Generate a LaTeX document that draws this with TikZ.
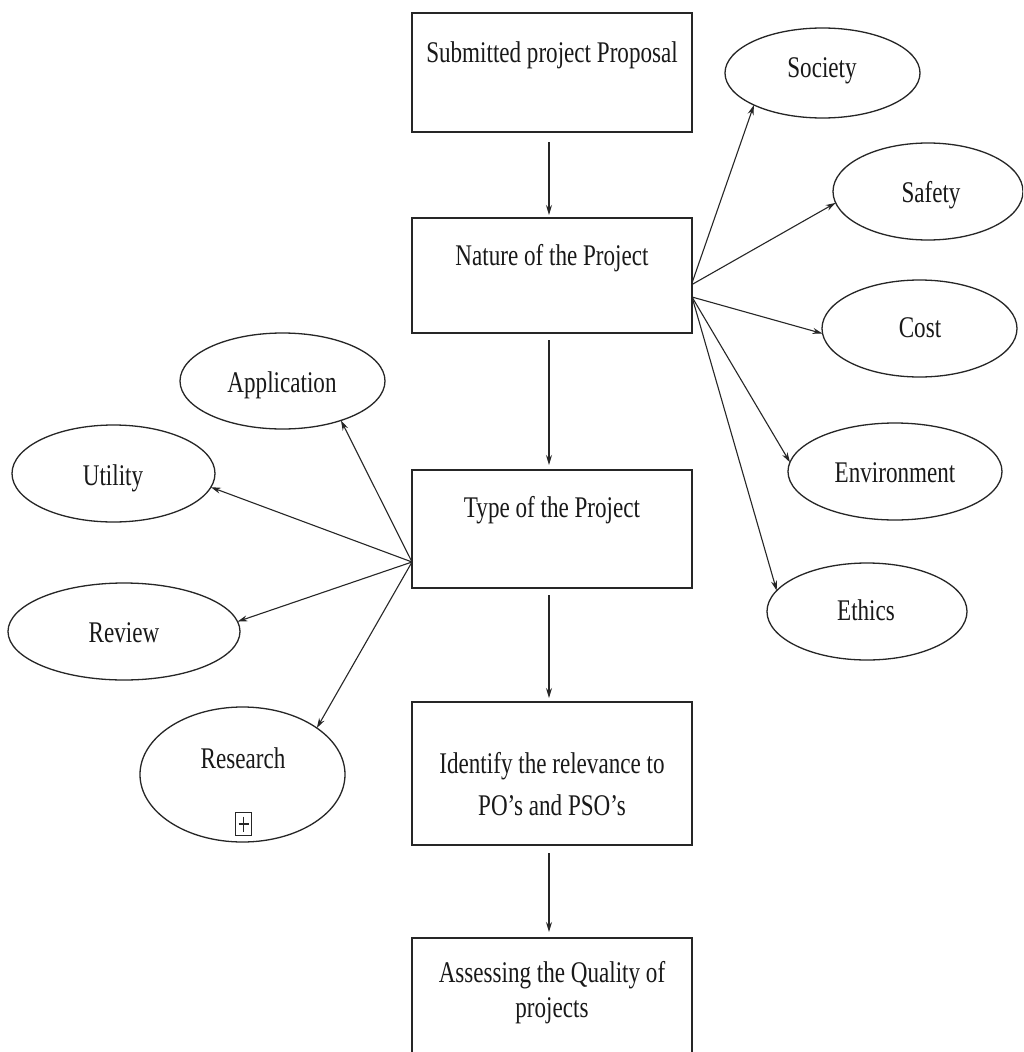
\documentclass[tikz,border=0pt]{standalone}
\usepackage{fontspec}
\setmainfont{Liberation Serif}[FakeStretch=0.77]
\usetikzlibrary{arrows.meta,shapes.geometric}
\begin{document}
\begin{tikzpicture}[x=1pt,y=-1pt,
  box/.style={draw=black!85, line width=1.8pt, rectangle, minimum width=280pt, inner sep=0pt, outer sep=0pt},
  oval/.style={draw=black!85, line width=1.3pt, ellipse, inner sep=0pt, outer sep=0pt},
  txt/.style={anchor=base, inner sep=0pt, outer sep=0pt, font=\fontsize{30pt}{36pt}\selectfont, text=black!90},
  arr/.style={draw=black!85, line width=1.1pt, -{Stealth[length=10pt,width=6pt]}}]
\useasboundingbox (0,0) rectangle (1023,1052);
\clip (0,0) rectangle (1023,1052);
\fill[white] (0,0) rectangle (1023,1052);

% central boxes
\node[box, minimum height=119pt] (b1) at (552,72.5) {};
\node[box, minimum height=115pt] (b2) at (552,275.5) {};
\node[box, minimum height=118pt] (b3) at (552,529) {};
\node[box, minimum height=143pt] (b4) at (552,773.5) {};
\node[box, minimum height=142pt] (b5) at (552,1009) {};

\node[txt] (b1t) at (552,62) {Submitted project Proposal};
\node[txt] (b2t) at (552,265) {Nature of the Project};
\node[txt] (b3t) at (552,517) {Type of the Project};
\node[txt] (b4t1) at (552,773) {Identify the relevance to};
\node[txt] (b4t2) at (552,815) {PO’s and PSO’s};
\node[txt] (b5t1) at (552,982) {Assessing the Quality of};
\node[txt] (b5t2) at (552,1017) {projects};

% right ellipses
\node[oval, minimum width=195pt, minimum height=90pt] (soc) at (822.5,73) {};
\node[oval, minimum width=190pt, minimum height=97pt] (saf) at (928,191.5) {};
\node[oval, minimum width=195pt, minimum height=97pt] (cost) at (919.5,328.5) {};
\node[oval, minimum width=214pt, minimum height=97pt] (env) at (895,471.5) {};
\node[oval, minimum width=200pt, minimum height=97pt] (eth) at (867,611.5) {};

\node[txt] (soct) at (822,77) {Society};
\node[txt] (saft) at (931,202) {Safety};
\node[txt] (costt) at (920,337) {Cost};
\node[txt] (envt) at (895,482) {Environment};
\node[txt] (etht) at (866,620) {Ethics};

% left ellipses
\node[oval, minimum width=205pt, minimum height=96pt] (app) at (282.5,381) {};
\node[oval, minimum width=203pt, minimum height=97pt] (uti) at (113.5,473.5) {};
\node[oval, minimum width=232pt, minimum height=97pt] (rev) at (124,631.5) {};
\node[oval, minimum width=205pt, minimum height=135pt] (res) at (242.5,774.5) {};

\node[txt] (appt) at (282,392) {Application};
\node[txt] (utit) at (113,485) {Utility};
\node[txt] (revt) at (124,642) {Review};
\node[txt] (rest) at (243,768) {Research};

% small expand box
\node[draw=black!85, line width=1.1pt, rectangle, minimum width=16pt, minimum height=23pt, inner sep=0pt, outer sep=0pt] (plusbox) at (243.5,824) {};
\draw[black!85, line width=1.1pt] ([yshift=-4pt]plusbox.north) -- ([yshift=4pt]plusbox.south);
\draw[black!85, line width=1.1pt] ([xshift=3pt]plusbox.west) -- ([xshift=-3pt]plusbox.east);

% vertical arrows
\draw[arr, shorten <=10pt, shorten >=3pt] ([xshift=-3pt]b1.south) -- ([xshift=-3pt]b2.north);
\draw[arr, shorten <=7pt, shorten >=5pt] ([xshift=-3pt]b2.south) -- ([xshift=-3pt]b3.north);
\draw[arr, shorten <=7pt, shorten >=4pt] ([xshift=-3pt]b3.south) -- ([xshift=-3pt]b4.north);
\draw[arr, shorten <=8pt, shorten >=6pt] ([xshift=-3pt]b4.south) -- ([xshift=-3pt]b5.north);

% right fan
\draw[arr] ([yshift=-7.5pt]b2.east) -- (soc.205);
\draw[arr] ([yshift=-9pt]b2.east) -- (saf.187);
\draw[arr] ([yshift=-21.5pt]b2.east) -- (cost.183);
\draw[arr] ([yshift=-21.5pt]b2.east) -- (env.175);
\draw[arr] ([yshift=-21.5pt]b2.east) -- (eth.167);

% left fan
\draw[arr] ([yshift=-33pt]b3.west) -- (app.326);
\draw[arr] ([yshift=-33pt]b3.west) -- (uti.352);
\draw[arr] ([yshift=-33pt]b3.west) -- (rev.5);
\draw[arr] ([yshift=-33pt]b3.west) -- (res.32);
\end{tikzpicture}
\end{document}
